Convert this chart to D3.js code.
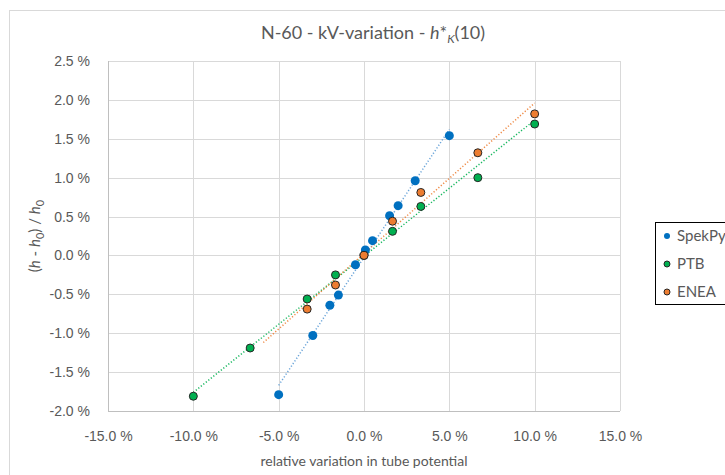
<!DOCTYPE html>
<html><head><meta charset="utf-8">
<script src="https://cdn.jsdelivr.net/npm/d3@7"></script>
<style>
body{margin:0;background:#fff;}
svg{display:block;font-family:Lato,"Open Sans",sans-serif;}
</style></head>
<body><svg id="c" width="725" height="475"></svg>
<script>
// Data (percent)
const spekX = [-5, -3, -2, -1.5, -0.5, 0.08, 0.5, 1.5, 2, 3, 5];
const spekY = [-1.79, -1.03, -0.64, -0.51, -0.12, 0.07, 0.19, 0.51, 0.64, 0.96, 1.54];
const ptbX = [-10, -6.67, -3.33, -1.67, 0, 1.67, 3.33, 6.67, 10];
const ptbY = [-1.81, -1.19, -0.56, -0.25, 0, 0.31, 0.63, 1.00, 1.69];
const eneaX = [-3.33, -1.67, 0, 1.67, 3.33, 6.67, 10];
const eneaY = [-0.69, -0.38, 0, 0.44, 0.81, 1.32, 1.82];
// trendline endpoints
const spekTrendX = [-5, 5], spekTrendY = [-1.67, 1.62];
const ptbTrendX = [-10, 10], ptbTrendY = [-1.76, 1.74];
const eneaTrendX = [-5.9, 10], eneaTrendY = [-1.12, 1.96];
const xTicks = [-15, -10, -5, 0, 5, 10, 15];
const yTicks = [-2, -1.5, -1, -0.5, 0, 0.5, 1, 1.5, 2, 2.5];
const seriesNames = ["SpekPy", "PTB", "ENEA"];

const svg = d3.select("#c");
const txt = "#595959";
// chart area border
svg.append("rect").attr("x", 9.5).attr("y", 10.5).attr("width", 800).attr("height", 500)
  .attr("fill", "none").attr("stroke", "#d9d9d9");

const x = d3.scaleLinear().domain([-15, 15]).range([108, 620]);
const y = d3.scaleLinear().domain([-2, 2.5]).range([411, 61]);

// gridlines
const g = svg.append("g");
g.selectAll(".vg").data(xTicks).join("line")
  .attr("x1", d => Math.round(x(d)) + 0.5).attr("x2", d => Math.round(x(d)) + 0.5)
  .attr("y1", y(2.5)).attr("y2", y(-2)).attr("stroke", "#d9d9d9");
g.selectAll(".hg").data(yTicks).join("line")
  .attr("y1", d => Math.round(y(d)) + 0.5).attr("y2", d => Math.round(y(d)) + 0.5)
  .attr("x1", x(-15)).attr("x2", x(15)).attr("stroke", "#d9d9d9");
// axis lines
svg.append("line").attr("x1", Math.round(x(-15)) + 0.5).attr("x2", Math.round(x(-15)) + 0.5)
  .attr("y1", y(2.5)).attr("y2", y(-2)).attr("stroke", "#bfbfbf");
svg.append("line").attr("x1", x(-15)).attr("x2", x(15))
  .attr("y1", Math.round(y(-2)) + 0.5).attr("y2", Math.round(y(-2)) + 0.5).attr("stroke", "#bfbfbf");

// axes labels via d3 axes
const xa = svg.append("g").attr("transform", `translate(0,${y(-2)})`)
  .call(d3.axisBottom(x).tickValues(xTicks).tickFormat(d => d.toFixed(1) + " %").tickSize(0).tickPadding(20));
xa.select(".domain").remove();
xa.selectAll("text").attr("fill", txt).style("font-size", "14px");
const ya = svg.append("g").attr("transform", `translate(${x(-15)},0)`)
  .call(d3.axisLeft(y).tickValues(yTicks).tickFormat(d => d.toFixed(1) + " %").tickSize(0).tickPadding(18));
ya.select(".domain").remove();
ya.selectAll("text").attr("fill", txt).style("font-size", "14px");

// title
const t = svg.append("text").attr("x", 373).attr("y", 39).attr("text-anchor", "middle")
  .attr("fill", txt).style("font-size", "18px");
t.append("tspan").text("N-60 - kV-variation - ");
t.append("tspan").attr("font-style", "italic").text("h");
t.append("tspan").text("*");
t.append("tspan").attr("font-style", "italic").attr("dy", 4).style("font-size", "12px").text("K");
t.append("tspan").attr("dy", -4).text("(10)");

// x title
svg.append("text").attr("x", 364).attr("y", 466).attr("text-anchor", "middle")
  .attr("fill", txt).style("font-size", "14px").text("relative variation in tube potential");
// y title
const yt = svg.append("text").attr("transform", "translate(40,236) rotate(-90)")
  .attr("text-anchor", "middle").attr("fill", txt).style("font-size", "15px");
yt.append("tspan").text("(");
yt.append("tspan").attr("font-style", "italic").text("h");
yt.append("tspan").text(" - ");
yt.append("tspan").attr("font-style", "italic").text("h");
yt.append("tspan").attr("dy", 4).style("font-size", "11px").text("0");
yt.append("tspan").attr("dy", -4).text(") / ");
yt.append("tspan").attr("font-style", "italic").text("h");
yt.append("tspan").attr("dy", 4).style("font-size", "11px").text("0");

// trendlines
const line = d3.line().x(d => x(d[0])).y(d => y(d[1]));
const trends = [
  {xs: spekTrendX, ys: spekTrendY, c: "#5b9bd5"},
  {xs: ptbTrendX, ys: ptbTrendY, c: "#00b050"},
  {xs: eneaTrendX, ys: eneaTrendY, c: "#ed7d31"}
];
trends.forEach(tr => {
  svg.append("path").attr("d", line(d3.zip(tr.xs, tr.ys)))
    .attr("fill", "none").attr("stroke", tr.c).attr("stroke-width", 1.5)
    .attr("stroke-dasharray", "1.2 2").attr("opacity", 0.9);
});

// markers
const series = [
  {xs: spekX, ys: spekY, fill: "#0070c0", stroke: "none", r: 4.5},
  {xs: ptbX, ys: ptbY, fill: "#00b050", stroke: "#262626", r: 4},
  {xs: eneaX, ys: eneaY, fill: "#ed7d31", stroke: "#262626", r: 4}
];
series.forEach(s => {
  svg.append("g").selectAll("circle").data(d3.zip(s.xs, s.ys)).join("circle")
    .attr("cx", d => x(d[0])).attr("cy", d => y(d[1])).attr("r", s.r)
    .attr("fill", s.fill).attr("stroke", s.stroke).attr("stroke-width", 1);
});

// legend
svg.append("rect").attr("x", 655.5).attr("y", 222.5).attr("width", 100).attr("height", 82)
  .attr("fill", "#fff").attr("stroke", "#000");
seriesNames.forEach((n, i) => {
  const ly = 236 + i * 28;
  const s = series[i];
  svg.append("circle").attr("cx", 667).attr("cy", ly).attr("r", 3)
    .attr("fill", s.fill).attr("stroke", s.stroke === "none" ? "none" : "#262626").attr("stroke-width", 1);
  svg.append("text").attr("x", 677).attr("y", ly + 5).attr("fill", txt)
    .style("font-size", "15px").text(n);
});
</script></body></html>
